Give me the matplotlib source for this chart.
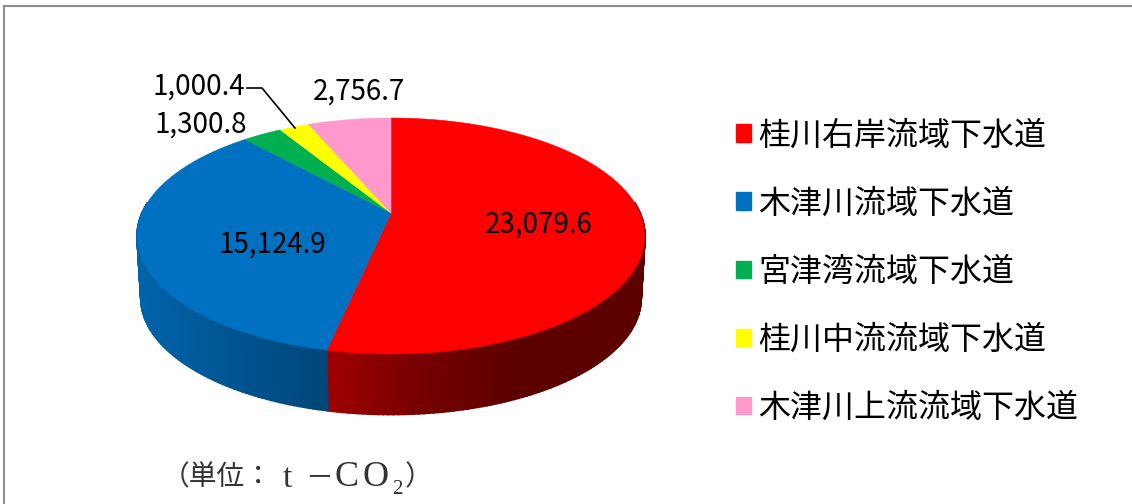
import numpy as np
import matplotlib
matplotlib.use("Agg")
import matplotlib.pyplot as plt
from matplotlib.patches import Polygon, Rectangle

categories = ["桂川右岸流域下水道", "木津川流域下水道", "宮津湾流域下水道", "桂川中流流域下水道", "木津川上流流域下水道"]
values = [23079.6, 15124.9, 1300.8, 1000.4, 2756.7]
value_labels = ["23,079.6", "15,124.9", "1,300.8", "1,000.4", "2,756.7"]
colors = ["#FF0000", "#0070C0", "#00B050", "#FFFF00", "#FF99CC"]

JP = "Noto Sans CJK JP"
SERIF = "Liberation Serif"
plt.rcParams["font.family"] = [JP, "DejaVu Sans"]

fig = plt.figure(figsize=(11.32, 5.04), dpi=100, facecolor="white")
ax = fig.add_axes([0, 0, 1, 1])
ax.set_xlim(0, 1132)
ax.set_ylim(504, 0)
ax.axis("off")

# frame: left and top edges only are visible
ax.plot([4, 4, 1132], [504, 6, 6], color="#8C8C8C", lw=1.5, solid_joinstyle="miter")

# perspective pie geometry (layout constants)
CX, CY, R, C, A = 391.0, 213.0, 249.0, 113.5, 0.195
DEPTH = 62.5
BOTTOM_SCALE = 0.985


def project(theta, scale=1.0, dy=0.0):
    u, v = np.sin(theta), np.cos(theta)
    d = 1 + A * v
    return CX + scale * R * u / d, CY + dy - scale * C * v / d


fractions = np.array(values) / np.sum(values)
edges = np.concatenate([[0], np.cumsum(fractions)]) * 2 * np.pi

# side walls, front part only, drawn as shaded strips
for i in range(len(values)):
    a0, a1 = edges[i], edges[i + 1]
    th = np.linspace(a0, a1, max(int((a1 - a0) * 60), 2))
    rgb = np.array(matplotlib.colors.to_rgb(colors[i]))
    for t0, t1 in zip(th[:-1], th[1:]):
        if np.cos((t0 + t1) / 2) > 0.1:
            continue
        x0, y0 = project(t0)
        x1, y1 = project(t1)
        bx0, by0 = project(t0, BOTTOM_SCALE, DEPTH)
        bx1, by1 = project(t1, BOTTOM_SCALE, DEPTH)
        xm = (x0 + x1) / 2
        if i == 0:
            f = np.interp(xm, [330, 420, 520, 645], [0.62, 0.46, 0.36, 0.36])
        else:
            f = np.interp(xm, [140, 330], [0.88, 0.62])
        c = rgb * f
        ax.add_patch(Polygon([(x0, y0), (x1, y1), (bx1, by1), (bx0, by0)],
                             closed=True, facecolor=c, edgecolor=c, lw=1.4, zorder=2))

# top surface
for i in range(len(values)):
    th = np.linspace(edges[i], edges[i + 1], 200)
    xs, ys = project(th)
    pts = np.column_stack([np.r_[CX, xs], np.r_[CY, ys]])
    ax.add_patch(Polygon(pts, closed=True, facecolor=colors[i], edgecolor=colors[i], lw=0.4, zorder=3))

# value labels
label_pos = [(539, 225), (272, 245), (201, 125), (199, 87), (359, 92)]
for s, (x, y) in zip(value_labels, label_pos):
    ax.text(x, y, s, fontsize=20, ha="center", va="center", color="black", zorder=5)

# leader line for 1,000.4
ax.plot([247, 262, 295], [88, 88, 128], color="black", lw=1.2, zorder=4)

# legend
handles = [Rectangle((0, 0), 1, 1, facecolor=c, edgecolor=c) for c in colors]
ax.legend(handles, categories, loc="upper left", bbox_to_anchor=(736 / 1132, 1 - 119.5 / 504),
          frameon=False, fontsize=23, handlelength=0.47, handleheight=0.47,
          labelspacing=1.13, handletextpad=0.22, borderpad=0, borderaxespad=0)

# unit note
ink = "#333333"
ax.text(162, 477, "（単位：", fontsize=20, ha="left", va="center", color=ink)
ax.text(283, 479, "t", fontsize=24, family=[SERIF], ha="left", va="center", color=ink)
ax.text(305, 477, "－", fontsize=20, ha="left", va="center", color=ink)
ax.text(334, 478, "C", fontsize=26, family=[SERIF], ha="left", va="center", color=ink)
ax.text(362, 478, "O", fontsize=26, family=[SERIF], ha="left", va="center", color=ink)
ax.text(392, 490, "2", fontsize=15, family=[SERIF], ha="left", va="center", color=ink)
ax.text(405, 477, "）", fontsize=20, ha="left", va="center", color=ink)

fig.savefig("out.png", dpi=100)
